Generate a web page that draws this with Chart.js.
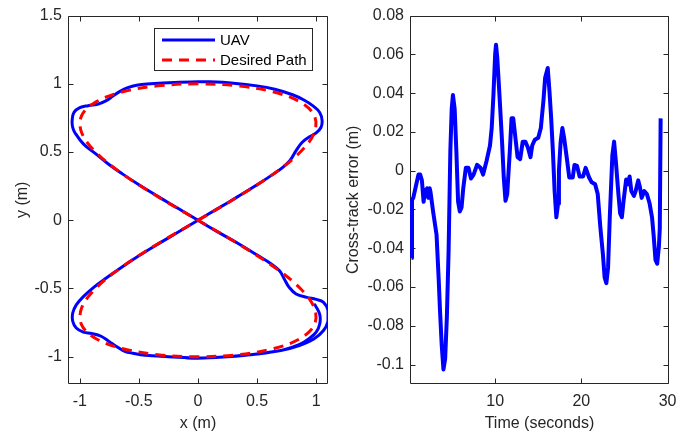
<!DOCTYPE html>
<html><head><meta charset="utf-8">
<script src="https://cdn.jsdelivr.net/npm/chart.js@4.4.0/dist/chart.umd.min.js"></script>
<style>
html,body{margin:0;padding:0;background:#fff;width:697px;height:437px;overflow:hidden}
#c1{position:absolute;left:0;top:0}
#c2{position:absolute;left:340px;top:0}
</style></head><body>
<canvas id="c1" width="340" height="437"></canvas>
<canvas id="c2" width="357" height="437"></canvas>
<script>
// ---------- Left plot: trajectory ----------
const uavX = [0.99,1.03,1.03,1.0,0.95,0.86,0.72,0.5,0.25,0,-0.25,-0.45,-0.55,-0.62,-0.68,-0.75,-0.82,-0.9,-0.97,-1.03,-1.06,-1.06,-1.03,-0.97,-0.88,-0.77,-0.64,-0.5,-0.34,-0.17,0,0.17,0.34,0.5,0.64,0.72,0.78,0.83,0.88,0.94,1.0,1.04,1.05,1.03,0.97,0.9,0.8,0.65,0.5,0.3,0.1,0,-0.2,-0.4,-0.52,-0.6,-0.66,-0.72,-0.78,-0.85,-0.93,-1.0,-1.05,-1.065,-1.06,-1.04,-0.97,-0.87,-0.77,-0.64,-0.5,-0.34,-0.17,0,0.17,0.34,0.5,0.62,0.69,0.73,0.77,0.83,0.92,1.0,1.06,1.1,1.1,1.06,0.98,0.85,0.7,0.5,0.25,0.05,-0.1];
const uavY = [-0.62,-0.69,-0.76,-0.82,-0.86,-0.91,-0.95,-0.98,-1.0,-1.01,-1.0,-0.99,-0.975,-0.96,-0.93,-0.89,-0.85,-0.83,-0.82,-0.79,-0.74,-0.68,-0.62,-0.56,-0.49,-0.42,-0.34,-0.26,-0.175,-0.088,0,0.087,0.175,0.26,0.34,0.39,0.44,0.51,0.57,0.61,0.64,0.68,0.73,0.79,0.84,0.88,0.92,0.96,0.985,1.005,1.015,1.015,1.01,1.0,0.99,0.97,0.945,0.91,0.875,0.85,0.84,0.825,0.79,0.73,0.68,0.64,0.56,0.49,0.42,0.34,0.26,0.175,0.088,0,-0.087,-0.17,-0.255,-0.32,-0.37,-0.43,-0.49,-0.54,-0.565,-0.58,-0.6,-0.66,-0.74,-0.81,-0.87,-0.92,-0.955,-0.98,-1.0,-1.01,-1.01];
const pathX = [0,0.342,0.643,0.866,0.985,0.985,0.866,0.643,0.342,0,-0.342,-0.643,-0.866,-0.985,-0.985,-0.866,-0.643,-0.342,0,0.342,0.643,0.866,0.985,0.985,0.866,0.643,0.342,0,-0.342,-0.643,-0.866,-0.985,-0.985,-0.866,-0.643,-0.342,0];
const pathY = [0,0.174,0.342,0.5,0.643,0.766,0.866,0.94,0.985,1,0.985,0.94,0.866,0.766,0.643,0.5,0.342,0.174,0,-0.174,-0.342,-0.5,-0.643,-0.766,-0.866,-0.94,-0.985,-1,-0.985,-0.94,-0.866,-0.766,-0.643,-0.5,-0.342,-0.174,0];
const leftXTicks = [-1,-0.5,0,0.5,1];
const leftXTickLabels = ['-1','-0.5','0','0.5','1'];
const leftYTicks = [-1,-0.5,0,0.5,1,1.5];
const leftYTickLabels = ['-1','-0.5','0','0.5','1','1.5'];

// ---------- Right plot: cross-track error ----------
const time = [0.3,0.35,0.5,0.8,1.1,1.3,1.5,1.7,1.85,1.98,2.1,2.25,2.4,2.5,2.8,3.2,3.45,3.6,3.8,4.0,4.2,4.4,4.6,4.8,4.96,5.1,5.3,5.5,5.7,5.9,6.1,6.3,6.6,6.9,7.2,7.5,7.9,8.3,8.6,9.0,9.4,9.6,9.8,10.0,10.1,10.25,10.5,10.8,11.0,11.2,11.4,11.7,11.9,12.1,12.4,12.6,12.9,13.2,13.5,13.8,14.1,14.3,14.6,15.0,15.3,15.6,15.8,16.1,16.3,16.5,16.7,16.9,17.1,17.3,17.4,17.6,17.8,18.0,18.3,18.6,19.0,19.2,19.5,19.8,20.2,20.5,20.9,21.2,21.6,21.9,22.2,22.5,22.7,22.9,23.1,23.3,23.6,23.8,24.0,24.3,24.5,24.7,24.9,25.2,25.4,25.6,25.8,26.1,26.3,26.6,26.8,27.0,27.3,27.6,27.9,28.2,28.4,28.6,28.8,29.0,29.1,29.2];
const crossTrackError = [-0.045,-0.015,-0.014,-0.008,-0.002,-0.002,-0.005,-0.016,-0.01,-0.013,-0.009,-0.014,-0.009,-0.011,-0.021,-0.033,-0.056,-0.072,-0.09,-0.1025,-0.097,-0.075,-0.041,0.01,0.032,0.039,0.032,0.01,-0.016,-0.021,-0.019,-0.009,0.0015,0.0015,-0.004,-0.002,0.003,0.0015,-0.002,0.005,0.013,0.022,0.039,0.06,0.065,0.058,0.039,0.015,-0.0035,-0.0155,-0.012,0.01,0.027,0.027,0.015,0.007,0.006,0.015,0.015,0.012,0.007,0.013,0.016,0.017,0.022,0.036,0.048,0.053,0.041,0.027,0.01,-0.0105,-0.024,-0.017,0,0.015,0.022,0.017,0.007,-0.0035,-0.0035,0.003,0.0025,-0.003,-0.003,0.0015,-0.0035,-0.006,-0.007,-0.012,-0.029,-0.043,-0.055,-0.058,-0.05,-0.024,0.008,0.015,0.005,-0.012,-0.022,-0.024,-0.0155,-0.0045,-0.007,-0.003,-0.0105,-0.013,-0.0105,-0.005,-0.0085,-0.014,-0.0105,-0.012,-0.0165,-0.024,-0.034,-0.046,-0.048,-0.039,-0.03,0.027];
const rightXTicks = [10,20,30];
const rightXTickLabels = ['10','20','30'];
const rightYTicks = [-0.1,-0.08,-0.06,-0.04,-0.02,0,0.02,0.04,0.06,0.08];
const rightYTickLabels = ['-0.1','-0.08','-0.06','-0.04','-0.02','0','0.02','0.04','0.06','0.08'];

const FONT = "'Liberation Sans', Arial, Helvetica, sans-serif";
const AXIS_COLOR = '#262626';
Chart.defaults.font.family = FONT;
Chart.defaults.font.size = 16;
Chart.defaults.color = AXIS_COLOR;

const toXY = (xs, ys) => xs.map((x, i) => ({x: x, y: ys[i]}));

const boxPlugin = {
  id: 'matlabBox',
  beforeDatasetsDraw(chart) {
    const {ctx, chartArea: a, scales} = chart;
    ctx.save();
    ctx.strokeStyle = AXIS_COLOR;
    ctx.lineWidth = 1;
    const L = 5;
    const l = Math.round(a.left) + 0.5, r = Math.round(a.right) - 0.5;
    const t = Math.round(a.top) + 0.5, b = Math.round(a.bottom) - 0.5;
    ctx.beginPath();
    ctx.rect(l, t, r - l, b - t);
    scales.x.ticks.forEach(tk => {
      const x = Math.round(scales.x.getPixelForValue(tk.value)) + 0.5;
      ctx.moveTo(x, b); ctx.lineTo(x, b - L);
      ctx.moveTo(x, t); ctx.lineTo(x, t + L);
    });
    scales.y.ticks.forEach(tk => {
      const y = Math.round(scales.y.getPixelForValue(tk.value)) + 0.5;
      ctx.moveTo(l, y); ctx.lineTo(l + L, y);
      ctx.moveTo(r, y); ctx.lineTo(r - L, y);
    });
    ctx.stroke();
    ctx.restore();
  }
};

const legendPlugin = {
  id: 'matlabLegend',
  afterDraw(chart, args, opts) {
    if (!opts || !opts.show) return;
    const ctx = chart.ctx;
    const bx = 154, by = 28, bw = 158, bh = 42;
    ctx.save();
    ctx.fillStyle = '#fff';
    ctx.fillRect(bx, by, bw, bh);
    ctx.strokeStyle = AXIS_COLOR;
    ctx.lineWidth = 1;
    ctx.strokeRect(bx + 0.5, by + 0.5, bw, bh);
    const rows = opts.order.map(i => chart.data.datasets[i]);
    rows.forEach((ds, k) => {
      const y = by + 12 + k * 20;
      ctx.beginPath();
      ctx.strokeStyle = ds.borderColor;
      ctx.lineWidth = ds.borderWidth;
      ctx.setLineDash(ds.borderDash || []);
      ctx.moveTo(162, y); ctx.lineTo(215, y);
      ctx.stroke();
      ctx.setLineDash([]);
      ctx.fillStyle = '#000';
      ctx.font = '15px ' + FONT;
      ctx.textBaseline = 'middle';
      ctx.textAlign = 'left';
      ctx.fillText(ds.label, 220, y + 1);
    });
    ctx.restore();
  }
};

function linearAxis(min, max, ticks, labels, title, isX, size, titlePad) {
  return {
    type: 'linear', min: min, max: max,
    afterBuildTicks: s => { s.ticks = ticks.map(v => ({value: v})); },
    afterFit: s => { if (isX) s.height = size; else s.width = size; },
    grid: {display: false, drawTicks: false},
    border: {display: false},
    ticks: {
      autoSkip: false, maxRotation: 0, minRotation: 0,
      padding: isX ? 8 : 6,
      color: AXIS_COLOR,
      font: {size: 16, family: FONT},
      callback: (v, i) => labels[i]
    },
    title: {display: true, text: title, color: AXIS_COLOR, font: {size: 16, family: FONT}, padding: titlePad}
  };
}

new Chart(document.getElementById('c1'), {
  type: 'scatter',
  data: {
    datasets: [
      {label: 'UAV', data: toXY(uavX, uavY), showLine: true, borderColor: '#0000FF', backgroundColor: '#0000FF', borderWidth: 3, pointRadius: 0, tension: 0.4, order: 2, borderJoinStyle: 'round', borderCapStyle: 'round'},
      {label: 'Desired Path', data: toXY(pathX, pathY), showLine: true, borderColor: '#FF0000', backgroundColor: '#FF0000', borderWidth: 3, borderDash: [10, 7], pointRadius: 0, tension: 0.35, order: 1}
    ]
  },
  options: {
    responsive: false, animation: false, devicePixelRatio: 1,
    layout: {padding: {left: 0, right: 12, top: 13, bottom: 0}},
    scales: {
      x: linearAxis(-1.1, 1.1, leftXTicks, leftXTickLabels, 'x (m)', true, 53, {top: 0, bottom: 4}),
      y: linearAxis(-1.2, 1.5, leftYTicks, leftYTickLabels, 'y (m)', false, 68, {top: 13, bottom: 0})
    },
    plugins: {legend: {display: false}, tooltip: {enabled: false}, matlabLegend: {show: true, order: [0, 1]}}
  },
  plugins: [boxPlugin, legendPlugin]
});

new Chart(document.getElementById('c2'), {
  type: 'scatter',
  data: {
    datasets: [
      {label: 'Cross-track error', data: toXY(time, crossTrackError), showLine: true, borderColor: '#0000FF', backgroundColor: '#0000FF', borderWidth: 4, pointRadius: 0, tension: 0, borderJoinStyle: 'round'}
    ]
  },
  options: {
    responsive: false, animation: false, devicePixelRatio: 1,
    layout: {padding: {left: 0, right: 28, top: 13, bottom: 0}},
    scales: {
      x: linearAxis(0.12, 30.17, rightXTicks, rightXTickLabels, 'Time (seconds)', true, 53, {top: 0, bottom: 4}),
      y: linearAxis(-0.11, 0.08, rightYTicks, rightYTickLabels, 'Cross-track error (m)', false, 70, {top: 4, bottom: 0})
    },
    plugins: {legend: {display: false}, tooltip: {enabled: false}, matlabLegend: {show: false}}
  },
  plugins: [boxPlugin, legendPlugin]
});
</script>
</body></html>
